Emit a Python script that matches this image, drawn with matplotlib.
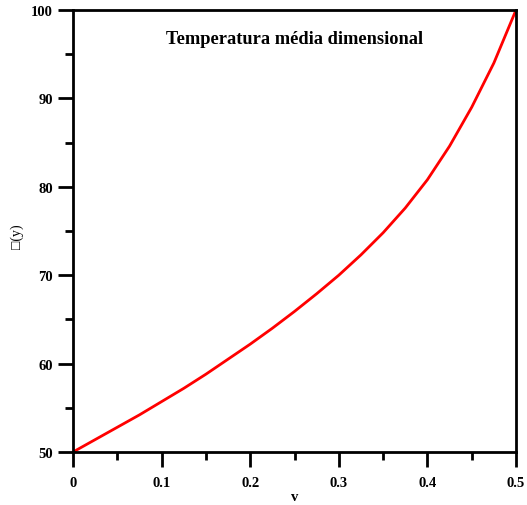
import numpy as np
import matplotlib
matplotlib.use("Agg")
import matplotlib.pyplot as plt
from matplotlib.ticker import MultipleLocator, FuncFormatter

# values
v = [0, 0.025, 0.05, 0.075, 0.1, 0.125, 0.15, 0.175, 0.2, 0.225, 0.25,
     0.275, 0.3, 0.325, 0.35, 0.375, 0.4, 0.425, 0.45, 0.475, 0.5]
temp = [50, 51.4, 52.8, 54.2, 55.7, 57.2, 58.8, 60.5, 62.2, 64.0, 65.9,
        67.9, 70.0, 72.3, 74.8, 77.6, 80.8, 84.6, 89.0, 94.0, 100]

title = "Temperatura média dimensional"
xlabel = "v"
ylabel = "\u25a1(y)"

plt.rcParams['font.family'] = ['Liberation Serif', 'DejaVu Sans']

fig = plt.figure(figsize=(5.27, 5.06), dpi=100)
ax = fig.add_axes([73/527, 53/506, 443/527, 442/506])

ax.plot(v, temp, color='#ff0000', lw=2.0)

ax.set_xlim(0, 0.5)
ax.set_ylim(50, 100)
ax.xaxis.set_major_locator(MultipleLocator(0.1))
ax.xaxis.set_minor_locator(MultipleLocator(0.05))
ax.yaxis.set_major_locator(MultipleLocator(10))
ax.yaxis.set_minor_locator(MultipleLocator(5))
ax.xaxis.set_major_formatter(FuncFormatter(lambda x, p: '0' if x == 0 else f'{x:g}'))

ax.tick_params(which='both', direction='out', width=2, top=False, right=False,
               labelsize=10.5)
ax.tick_params(which='major', length=11)
ax.tick_params(which='minor', length=6)
ax.tick_params(axis='x', which='major', pad=6)
ax.tick_params(axis='y', which='major', pad=3.5)
for lbl in ax.get_xticklabels() + ax.get_yticklabels():
    lbl.set_fontweight('bold')
for s in ax.spines.values():
    s.set_linewidth(2)

ax.text(0.5, 0.935, title, transform=ax.transAxes, ha='center', va='center',
        fontsize=13.2, fontweight='bold')
ax.set_xlabel(xlabel, fontsize=10.5, fontweight='bold')
ax.set_ylabel(ylabel, fontsize=10)
ax.xaxis.set_label_coords(0.5, -0.085)
ax.yaxis.set_label_coords(-0.11, 0.49)

fig.savefig("out.png", dpi=100)
